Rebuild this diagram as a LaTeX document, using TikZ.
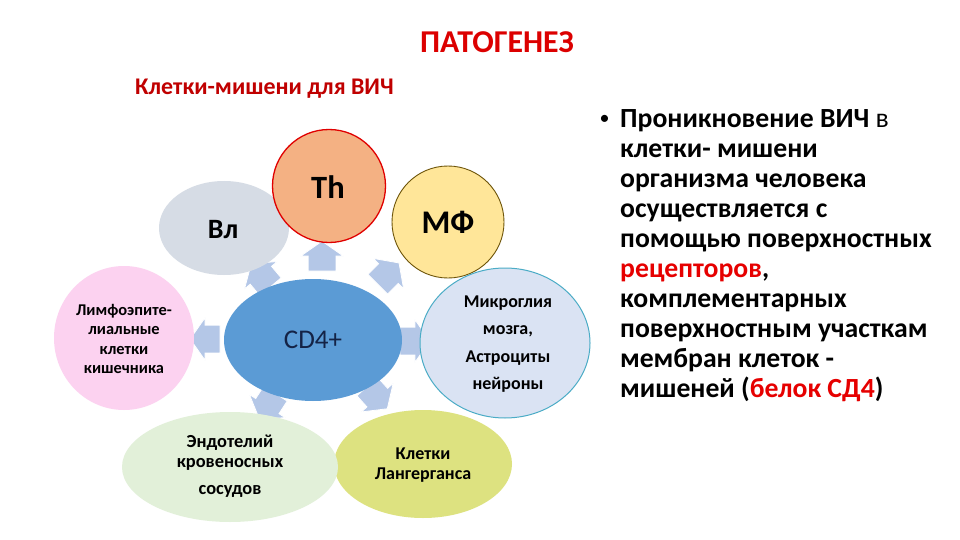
\documentclass[tikz,border=0pt]{standalone}
\usepackage{fontspec}
\setmainfont{Carlito}
\usetikzlibrary{shapes.geometric,shapes.arrows}
\definecolor{thfill}{RGB}{244,177,131}
\definecolor{thline}{RGB}{224,0,0}
\definecolor{mffill}{RGB}{255,230,153}
\definecolor{mfline}{RGB}{110,85,10}
\definecolor{vlfill}{RGB}{214,220,229}
\definecolor{limfill}{RGB}{252,210,240}
\definecolor{cdfill}{RGB}{91,155,213}
\definecolor{cdtext}{RGB}{20,35,70}
\definecolor{mkfill}{RGB}{218,227,243}
\definecolor{mkline}{RGB}{75,172,198}
\definecolor{enfill}{RGB}{226,240,217}
\definecolor{lgfill}{RGB}{221,226,128}
\definecolor{arrowc}{RGB}{180,199,231}
\definecolor{titlered}{RGB}{220,0,0}
\definecolor{subred}{RGB}{192,0,0}
\definecolor{hlred}{RGB}{230,0,0}
\begin{document}
\begin{tikzpicture}[x=1pt,y=-1pt,
  blob/.style={ellipse, inner sep=0pt},
  radarrow/.style={single arrow, fill=arrowc, draw=white, line width=0.8pt,
    minimum height=30pt, single arrow head extend=7.5pt,
    single arrow tip angle=110, inner xsep=0pt, inner ysep=13.5pt},
  lbl/.style={font=\bfseries\fontsize{17}{19.5}\selectfont, align=center, inner sep=0pt},
  big/.style={font=\bfseries\fontsize{#1}{#1}\selectfont, inner sep=0pt},
  rline/.style={anchor=base west, inner sep=0pt, font=\bfseries\fontsize{27.7}{30}\selectfont}
]
\useasboundingbox[fill=white] (0,0) rectangle (960,540);

% titles
\node[anchor=base west, inner sep=0pt, text=titlered, font=\bfseries\fontsize{31.8}{32}\selectfont] (title) at (420,53) {ПАТОГЕНЕЗ};
\node[anchor=base west, inner sep=0pt, text=subred, font=\bfseries\fontsize{23.9}{24}\selectfont] (sub) at (135,95) {Клетки-мишени для ВИЧ};

% radial block arrows
\node[radarrow, rotate=90]  (a-th)  at (322,261) {};
\node[radarrow, rotate=130] (a-vl)  at (264,279) {};
\node[radarrow, rotate=45]  (a-mf)  at (385,277) {};
\node[radarrow, rotate=180] (a-lim) at (210,339) {};
\node[radarrow, rotate=0]   (a-mk)  at (410,341) {};
\node[radarrow, rotate=237] (a-en)  at (270,402) {};
\node[radarrow, rotate=312] (a-lg)  at (374,394) {};

% ellipses
\node[blob, fill=vlfill, minimum width=130pt, minimum height=94pt] (vl) at (224,228) {};
\node[circle, inner sep=0pt, fill=thfill, draw=thline, line width=1.3pt, minimum size=113pt] (th) at (329,186) {};
\node[circle, inner sep=0pt, fill=mffill, draw=mfline, line width=0.9pt, minimum size=112pt] (mf) at (448,222) {};
\node[blob, fill=limfill, minimum width=140pt, minimum height=144pt] (lim) at (124,338) {};
\node[blob, fill=cdfill, minimum width=178pt, minimum height=122pt] (cd4) at (313,340) {};
\node[blob, fill=mkfill, draw=mkline, line width=1pt, minimum width=170pt, minimum height=150pt] (mk) at (505,343) {};
\node[blob, fill=lgfill, minimum width=178pt, minimum height=108pt] (lg) at (423,464) {};
\node[blob, fill=enfill, minimum width=216pt, minimum height=110pt] (en) at (230,467) {};

% texts in shapes
\node[big=28] (vl-t) at (223,230) {Вл};
\node[big=32.5] (th-t) at (328,187) {Th};
\node[big=33] (mf-t) at (448,222) {МФ};
\node[inner sep=0pt, text=cdtext, font=\fontsize{27}{27}\selectfont] (cd4-t) at (313,340) {CD4+};
\node[lbl, font=\bfseries\fontsize{16.4}{19.2}\selectfont] (lim-t) at (124,339) {Лимфоэпите-\\лиальные\\клетки\\кишечника};
\node[lbl, font=\bfseries\fontsize{18}{27.3}\selectfont] (mk-t) at (508,344) {Микроглия\\мозга,\\Астроциты\\нейроны};
\node[lbl, font=\bfseries\fontsize{18.4}{20}\selectfont] (en-t) at (230,466) {Эндотелий\\кровеносных\\[7pt]сосудов};
\node[lbl, font=\bfseries\fontsize{18}{20}\selectfont] (lg-t) at (423,465) {Клетки\\Лангерганса};

% right text
\node[anchor=base, inner sep=0pt, font=\fontsize{20}{20}\selectfont] (bul) at (604.5,125) {•};
\node[rline] (r1) at (620,128.0) {Проникновение ВИЧ \mdseries в};
\node[rline] (r2) at (620,157.9) {клетки- мишени};
\node[rline] (r3) at (620,187.8) {организма человека};
\node[rline] (r4) at (620,217.7) {осуществляется с};
\node[rline] (r5) at (620,247.6) {помощью поверхностных};
\node[rline] (r6) at (620,277.5) {{\color{hlred}рецепторов},};
\node[rline] (r7) at (620,307.4) {комплементарных};
\node[rline] (r8) at (620,337.3) {поверхностным участкам};
\node[rline] (r9) at (620,367.2) {мембран клеток -};
\node[rline] (r10) at (620,397.1) {мишеней ({\color{hlred}белок СД4})};
\end{tikzpicture}
\end{document}
